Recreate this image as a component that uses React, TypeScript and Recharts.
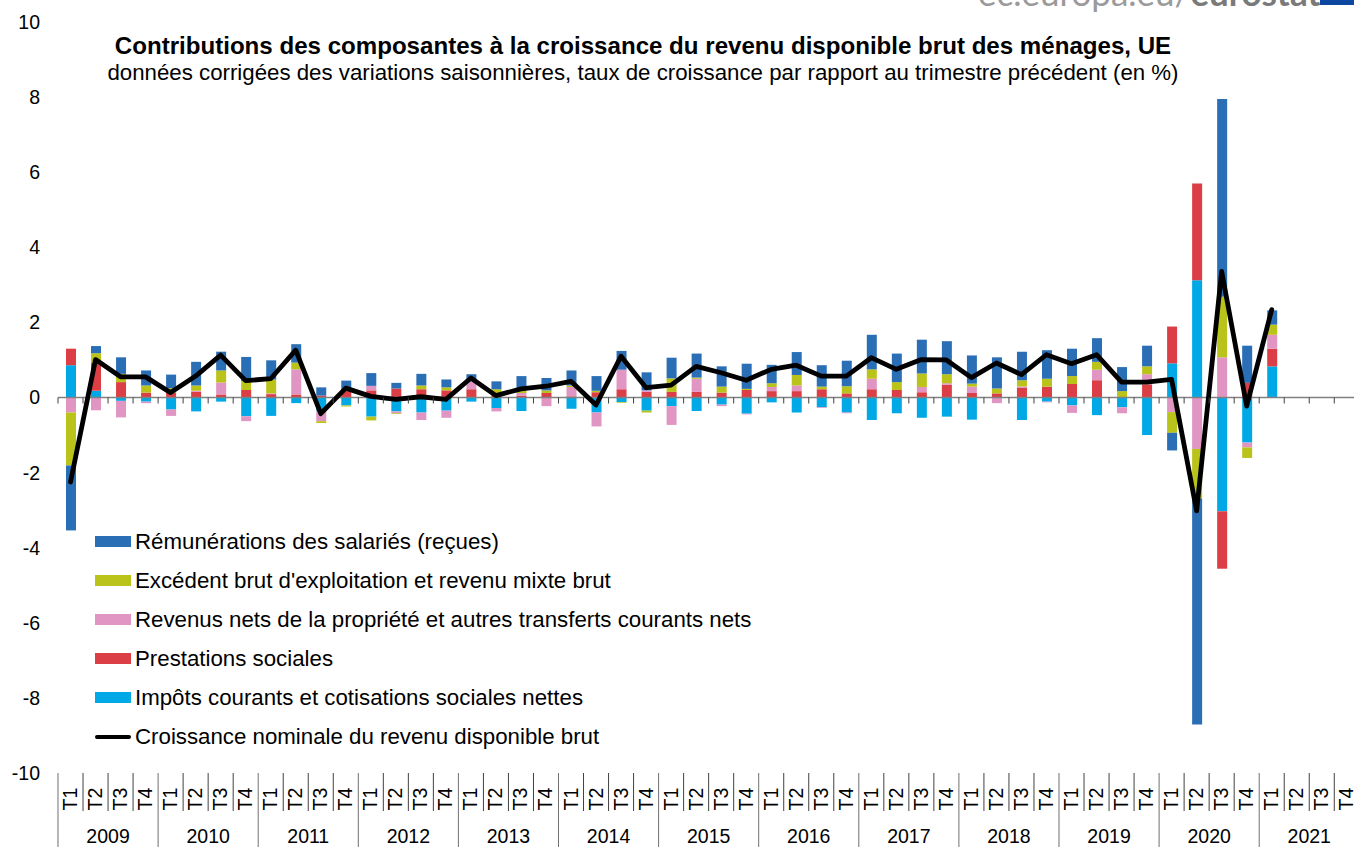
import React from "react";
import { ComposedChart, Bar, Line, XAxis, YAxis, ReferenceLine } from "recharts";

const years = [2009, 2010, 2011, 2012, 2013, 2014, 2015, 2016, 2017, 2018, 2019, 2020, 2021];
const quarters = ["T1", "T2", "T3", "T4"];
const yTicks = [-10, -8, -6, -4, -2, 0, 2, 4, 6, 8, 10];

const wages = [
  -1.73, 0.19, 0.44, 0.4, 0.36, 0.63, 0.5, 0.64, 0.51, 0.49, 0.22, 0.28, 0.34, 0.15, 0.31, 0.21,
  0.19, 0.21, 0.31, 0.33, 0.4, 0.39, 0.5, 0.48, 0.55, 0.64, 0.54, 0.67, 0.49, 0.61, 0.57, 0.68,
  0.92, 0.76, 0.9, 0.88, 0.75, 0.83, 0.76, 0.76, 0.73, 0.63, 0.64, 0.55, -0.47, -6.02, 5.27, 0.99,
  0.38,
];
const surplus = [
  -1.41, 0.25, 0.22, 0.19, 0.13, 0.14, 0.32, 0.24, 0.37, 0.18, -0.05, -0.03, -0.1, -0.02, 0.1, 0.08,
  0, 0.1, 0.14, 0.07, 0.04, 0.04, -0.02, -0.05, 0.36, 0.03, 0.16, 0.03, 0.1, 0.28, 0.07, 0.19,
  0.25, 0.21, 0.36, 0.24, 0.08, 0.13, 0.17, 0.21, 0.21, 0.21, 0.17, 0.21, -0.55, -1.32, 1.61, -0.28,
  0.27,
];
const property = [
  -0.4, -0.34, -0.44, -0.04, -0.17, 0.03, 0.32, -0.13, 0.02, 0.67, -0.27, 0, 0.12, -0.05, -0.2, -0.19,
  0.21, -0.09, 0.07, -0.23, 0.25, -0.37, 0.52, 0.04, -0.5, 0.35, -0.04, -0.02, 0.11, 0.15, -0.02, -0.02,
  0.28, 0, 0.14, 0.04, 0.17, -0.15, 0.04, -0.02, -0.2, 0.28, -0.16, 0.27, -0.39, -1.37, 1.07, -0.13,
  0.37,
];
const benefits = [
  0.44, 0.75, 0.41, 0.13, 0.12, 0.15, 0.08, 0.2, 0.09, 0.08, 0.05, 0.17, 0.19, 0.24, 0.22, 0.19,
  0.22, 0.12, 0.05, 0.12, 0.03, 0.14, 0.22, 0.15, 0.15, 0.15, 0.13, 0.2, 0.17, 0.17, 0.22, 0.11,
  0.22, 0.2, 0.14, 0.34, 0.12, 0.11, 0.25, 0.29, 0.36, 0.46, 0, 0.35, 0.98, 2.58, -1.53, 0.39,
  0.47,
];
const taxes = [
  0.86, 0.18, -0.09, -0.11, -0.32, -0.37, -0.11, -0.5, -0.49, -0.15, -0.36, -0.21, -0.51, -0.37, -0.4, -0.35,
  -0.11, -0.28, -0.36, 0, -0.3, -0.4, -0.12, -0.35, -0.23, -0.36, -0.19, -0.43, -0.13, -0.4, -0.26, -0.4,
  -0.6, -0.42, -0.54, -0.51, -0.59, 0, -0.6, -0.11, -0.21, -0.47, -0.26, -1.0, 0.91, 3.12, -3.03, -1.2,
  0.83,
];
const growth = [
  -2.25, 1.01, 0.55, 0.55, 0.13, 0.57, 1.13, 0.45, 0.5, 1.26, -0.43, 0.25, 0.03, -0.05, 0.02, -0.05,
  0.52, 0.05, 0.23, 0.3, 0.43, -0.2, 1.1, 0.26, 0.33, 0.83, 0.66, 0.46, 0.75, 0.86, 0.57, 0.57,
  1.06, 0.75, 1.01, 1.0, 0.53, 0.92, 0.61, 1.14, 0.9, 1.14, 0.41, 0.41, 0.48, -3.02, 3.36, -0.23,
  2.34,
];

const legendBars = [
  { name: "Rémunérations des salariés (reçues)", color: "#2A6FB5" },
  { name: "Excédent brut d'exploitation et revenu mixte brut", color: "#B9C31A" },
  { name: "Revenus nets de la propriété et autres transferts courants nets", color: "#E195C3" },
  { name: "Prestations sociales", color: "#DB3E44" },
  { name: "Impôts courants et cotisations sociales nettes", color: "#00A9E6" },
];
const legendLine = "Croissance nominale du revenu disponible brut";

const labels = years.flatMap((y) => quarters.map((q) => `${y} ${q}`));
const data = labels.map((label, i) => ({
  label,
  wages: wages[i] ?? null,
  surplus: surplus[i] ?? null,
  property: property[i] ?? null,
  benefits: benefits[i] ?? null,
  taxes: taxes[i] ?? null,
  growth: growth[i] ?? null,
}));

const FONT = "'Liberation Sans', Arial, sans-serif";
const PLOT_TOP = 22;
const PLOT_BOTTOM = 773;
const AXIS_HEIGHT = 847 - PLOT_BOTTOM;
const ZERO_OFFSET = (PLOT_BOTTOM - PLOT_TOP) / 2;
const BAND = 25.03;

// two-level axis: quarter label plus year label, drawn per category,
// along with the small tick marks on the zero line
const QuarterTick = (props: any) => {
  const { x, payload } = props;
  const [year, q] = String(payload?.value ?? "").split(" ");
  const left = x - BAND / 2;
  const isFirst = q === "T1";
  return (
    <g>
      <line x1={left} x2={left} y1={PLOT_BOTTOM - ZERO_OFFSET} y2={PLOT_BOTTOM - ZERO_OFFSET + 6} stroke="#404040" strokeWidth={1} />
      <line x1={left} x2={left} y1={PLOT_BOTTOM} y2={isFirst ? 847 : 811} stroke={isFirst ? "#707070" : "#404040"} strokeWidth={1} />
      <text
        transform={`translate(${x + 6.5},799) rotate(-90)`}
        textAnchor="middle"
        fill="#000"
        fontSize={19.5}
        fontFamily={FONT}
      >
        {q}
      </text>
      {isFirst && (
        <text x={left + BAND * 2} y={843} textAnchor="middle" fill="#000" fontSize={19.5} fontFamily={FONT}>
          {year}
        </text>
      )}
    </g>
  );
};

const LegendBox = () => (
  <div style={{ position: "absolute", left: 95, top: 522, fontFamily: FONT, fontSize: 22.27, color: "#000" }}>
    {legendBars.map((s) => (
      <div key={s.name} style={{ height: 39, display: "flex", alignItems: "center", whiteSpace: "nowrap" }}>
        <span style={{ width: 36, height: 11, background: s.color, marginRight: 4, display: "block" }} />
        <span>{s.name}</span>
      </div>
    ))}
    <div style={{ height: 39, display: "flex", alignItems: "center", whiteSpace: "nowrap" }}>
      <span style={{ width: 36, height: 4, background: "#000", marginRight: 4, display: "block", borderRadius: 2 }} />
      <span>{legendLine}</span>
    </div>
  </div>
);

export default function App() {
  return (
    <div style={{ position: "absolute", left: 0, top: 0, width: 1354, height: 847, overflow: "hidden", background: "#fff" }}>
      <ComposedChart
        width={1362}
        height={847}
        data={data}
        stackOffset="sign"
        barCategoryGap={0}
        margin={{ top: PLOT_TOP, right: 2.7, left: 0, bottom: 0 }}
      >
        <XAxis
          dataKey="label"
          interval={0}
          height={AXIS_HEIGHT}
          axisLine={false}
          tickLine={false}
          tick={<QuarterTick />}
        />
        <YAxis
          width={58}
          domain={[-10, 10]}
          ticks={yTicks}
          interval={0}
          axisLine={false}
          tickLine={false}
          tickSize={0}
          tickMargin={18}
          tick={{ fill: "#000", fontSize: 19.5, fontFamily: FONT }}
        />
        <ReferenceLine y={0} stroke="#808080" strokeWidth={1.5} />
        <Bar dataKey="taxes" stackId="a" fill="#00A9E6" barSize={10} isAnimationActive={false} />
        <Bar dataKey="benefits" stackId="a" fill="#DB3E44" barSize={10} isAnimationActive={false} />
        <Bar dataKey="property" stackId="a" fill="#E195C3" barSize={10} isAnimationActive={false} />
        <Bar dataKey="surplus" stackId="a" fill="#B9C31A" barSize={10} isAnimationActive={false} />
        <Bar dataKey="wages" stackId="a" fill="#2A6FB5" barSize={10} isAnimationActive={false} />
        <Line
          dataKey="growth"
          type="linear"
          stroke="#000"
          strokeWidth={4.8}
          strokeLinecap="round"
          strokeLinejoin="round"
          dot={false}
          activeDot={false}
          isAnimationActive={false}
        />
      </ComposedChart>

      <LegendBox />

      <div style={{ position: "absolute", left: 0, width: 1286, top: 32, textAlign: "center", whiteSpace: "nowrap", fontFamily: FONT, fontWeight: 700, fontSize: 24.1, color: "#000" }}>
        Contributions des composantes à la croissance du revenu disponible brut des ménages, UE
      </div>
      <div style={{ position: "absolute", left: 0, width: 1286, top: 60, textAlign: "center", whiteSpace: "nowrap", fontFamily: FONT, fontSize: 22.25, color: "#000" }}>
        données corrigées des variations saisonnières, taux de croissance par rapport au trimestre précédent (en %)
      </div>

      <div style={{ position: "absolute", left: 978, top: -29.5, whiteSpace: "nowrap", fontFamily: "Lato, sans-serif", fontSize: 35, color: "#9a9a9a" }}>
        ec.europa.eu/<b style={{ color: "#7a7a7a" }}>eurostat</b>
      </div>
      <div style={{ position: "absolute", left: 1320, top: 0, width: 34, height: 5, background: "#0E47A1" }} />
    </div>
  );
}
